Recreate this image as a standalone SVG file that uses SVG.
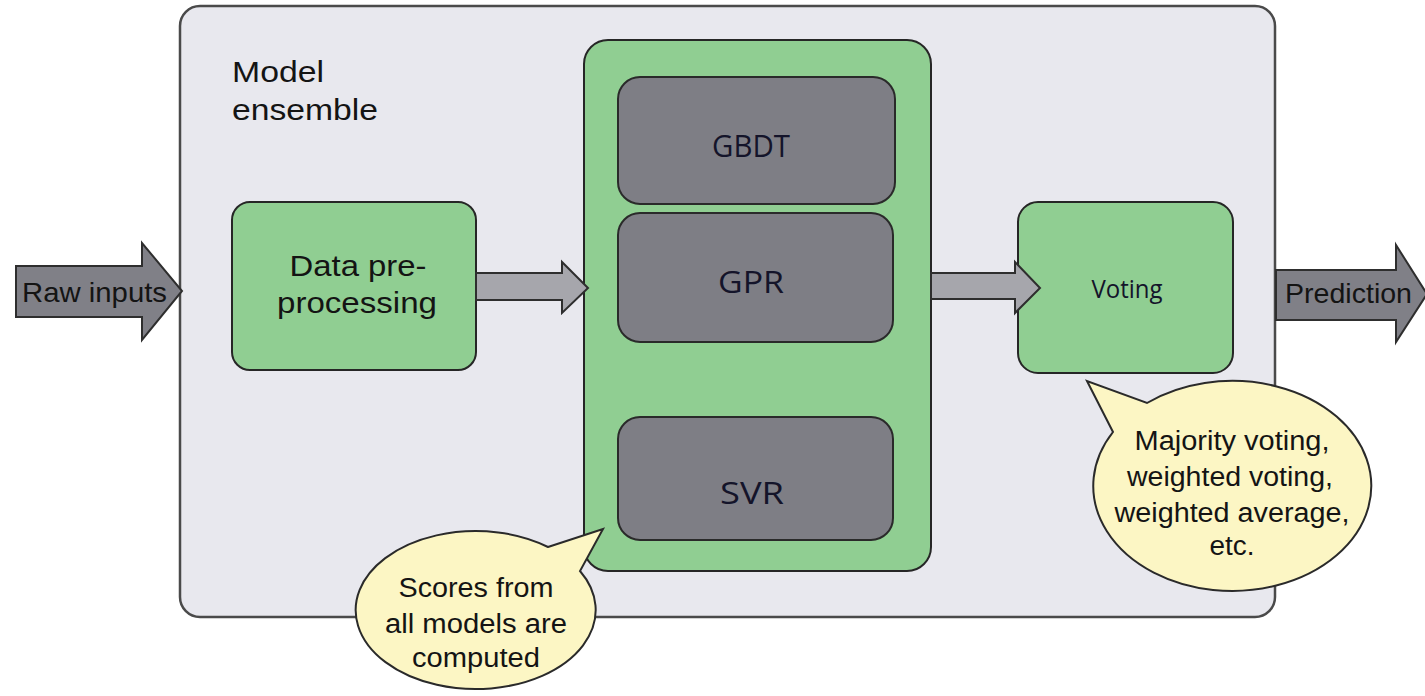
<svg xmlns="http://www.w3.org/2000/svg" width="1425" height="696" viewBox="0 0 1425 696">
  <style>
    .sans { font-family: "Liberation Sans", Arial, sans-serif; fill: #141414; }
    .ui { font-family: "Open Sans", "Noto Sans", sans-serif; fill: #14142a; }
    .frame { fill: #e8e8ee; stroke: #4a4a4a; stroke-width: 2.5; }
    .green { fill: #90ce92; stroke: #262626; stroke-width: 2; }
    .model { fill: #7e7e85; stroke: #2a2a2a; stroke-width: 2; }
    .bigarrow { fill: #808087; stroke: #2e2e2e; stroke-width: 2; stroke-linejoin: miter; }
    .smallarrow { fill: #a6a6ac; stroke: #2e2e2e; stroke-width: 2; stroke-linejoin: miter; }
    .bubble { fill: #fcf6c4; stroke: #2a2a2a; stroke-width: 2; stroke-linejoin: miter; }
  </style>

  <rect width="1425" height="696" fill="#ffffff"/>

  <!-- ensemble container -->
  <g id="ensemble">
    <rect class="frame" x="180" y="6" width="1095" height="611" rx="20"/>
    <text class="sans" font-size="30" x="232" y="82" textLength="92" lengthAdjust="spacingAndGlyphs">Model</text>
    <text class="sans" font-size="30" x="232" y="120" textLength="146" lengthAdjust="spacingAndGlyphs">ensemble</text>
  </g>

  <g id="preprocessing">
    <rect class="green" x="232" y="202" width="244" height="168" rx="18"/>
    <text class="sans" font-size="29" x="358" y="276" text-anchor="middle" textLength="137" lengthAdjust="spacingAndGlyphs">Data pre-</text>
    <text class="sans" font-size="29" x="357" y="313" text-anchor="middle" textLength="160" lengthAdjust="spacingAndGlyphs">processing</text>
  </g>

  <g id="models">
    <rect class="green" x="584" y="40" width="347" height="531" rx="24"/>
  </g>

  <g id="gbdt">
    <rect class="model" x="618" y="77" width="277" height="127" rx="22"/>
    <text class="ui" font-size="31" x="751" y="157" text-anchor="middle" textLength="78" lengthAdjust="spacingAndGlyphs">GBDT</text>
  </g>

  <g id="gpr">
    <rect class="model" x="618" y="213" width="275" height="129" rx="22"/>
    <text class="ui" font-size="31" x="751" y="293" text-anchor="middle" textLength="66" lengthAdjust="spacingAndGlyphs">GPR</text>
  </g>

  <g id="svr">
    <rect class="model" x="618" y="417" width="275" height="123" rx="22"/>
    <text class="ui" font-size="31" x="752" y="504" text-anchor="middle" textLength="64" lengthAdjust="spacingAndGlyphs">SVR</text>
  </g>

  <g id="voting">
    <rect class="green" x="1018" y="202" width="215" height="171" rx="20"/>
    <text class="ui" font-size="26" x="1127" y="298" text-anchor="middle" textLength="71" lengthAdjust="spacingAndGlyphs">Voting</text>
  </g>

  <!-- connectors, drawn over the box edges they touch -->
  <g id="connectors">
    <polygon class="bigarrow" points="16,266 142,266 142,243 182,291 142,340 142,317 16,317"/>
    <polygon class="smallarrow" points="476,273 562,273 562,262 588,288 562,313 562,300 476,300"/>
    <polygon class="smallarrow" points="931,273 1015,273 1015,262 1040,288 1015,313 1015,299 931,299"/>
    <polygon class="bigarrow" points="1276,270 1396,270 1396,245 1427,294 1396,342 1396,320 1276,320"/>
    <text class="sans" font-size="28" x="22" y="302" textLength="145" lengthAdjust="spacingAndGlyphs">Raw inputs</text>
    <text class="sans" font-size="28" x="1285" y="303" textLength="127" lengthAdjust="spacingAndGlyphs">Prediction</text>
  </g>

  <g id="note-scores">
    <path class="bubble" d="M 548,547 L 603,529 L 580,571 A 120 79 0 1 1 548,547 Z"/>
    <text class="sans" font-size="27" x="476" y="597" text-anchor="middle" textLength="155" lengthAdjust="spacingAndGlyphs">Scores from</text>
    <text class="sans" font-size="27" x="476" y="633" text-anchor="middle" textLength="182" lengthAdjust="spacingAndGlyphs">all models are</text>
    <text class="sans" font-size="27" x="476" y="667" text-anchor="middle" textLength="128" lengthAdjust="spacingAndGlyphs">computed</text>
  </g>

  <g id="note-voting">
    <path class="bubble" d="M 1113,432 L 1087,381 L 1147,403 A 139 105 0 1 1 1113,432 Z"/>
    <text class="sans" font-size="27" x="1232" y="450" text-anchor="middle" textLength="195" lengthAdjust="spacingAndGlyphs">Majority voting,</text>
    <text class="sans" font-size="27" x="1230" y="486" text-anchor="middle" textLength="206" lengthAdjust="spacingAndGlyphs">weighted voting,</text>
    <text class="sans" font-size="27" x="1232" y="522" text-anchor="middle" textLength="235" lengthAdjust="spacingAndGlyphs">weighted average,</text>
    <text class="sans" font-size="27" x="1232" y="555" text-anchor="middle" textLength="45" lengthAdjust="spacingAndGlyphs">etc.</text>
  </g>
</svg>
